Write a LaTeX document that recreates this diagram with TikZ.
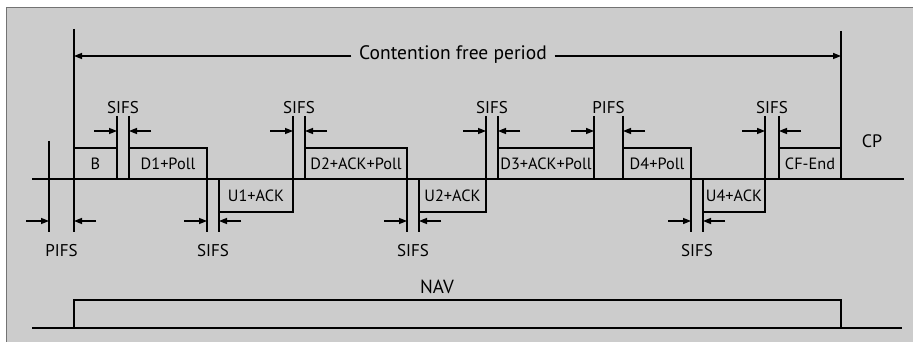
\documentclass[tikz,border=0pt]{standalone}
\usepackage{fontspec}
\setmainfont{PT Sans}
\usetikzlibrary{arrows.meta}
\definecolor{bggray}{gray}{0.80}
\definecolor{edgegray}{gray}{0.45}
\begin{document}
\begin{tikzpicture}[x=1pt,y=-1pt,
  line width=1.4pt,
  ln/.style={line width=1.4pt},
  tip/.style={-{Triangle[length=8pt,width=6pt]}, line width=1.4pt},
  frame/.style={draw, line width=1.4pt, inner sep=0pt, outer sep=0pt},
  boxlbl/.style={font=\fontsize{16.3}{18}\selectfont},
  lbl/.style={font=\fontsize{17}{19}\selectfont, inner sep=0pt}
]
\useasboundingbox (0,0) rectangle (913,342);
% background
\fill[bggray] (6,8) rectangle (913,342);
\draw[edgegray, line width=1pt] (6,342) -- (6,8) -- (913,8);

% timelines
\coordinate (tlS) at (32,179);
\coordinate (tlE) at (904,179);
\draw[ln] (tlS) -- (tlE);

% upper frames
\node[frame, minimum width=43, minimum height=31, anchor=north west] (B) at (74,148) {};
\node[boxlbl] at (B.center) {B};
\node[frame, minimum width=78, minimum height=31, anchor=north west] (D1) at (129,148) {};
\node[boxlbl] at (D1.center) {D1+Poll};
\node[frame, minimum width=102, minimum height=31, anchor=north west] (D2) at (305,148) {};
\node[boxlbl] at (D2.center) {D2+ACK+Poll};
\node[frame, minimum width=96, minimum height=31, anchor=north west] (D3) at (498,148) {};
\node[boxlbl] at (D3.center) {D3+ACK+Poll};
\node[frame, minimum width=68, minimum height=31, anchor=north west] (D4) at (623,148) {};
\node[boxlbl] at (D4.center) {D4+Poll};
\node[frame, minimum width=62, minimum height=31, anchor=north west] (CFE) at (779,148) {};
\node[boxlbl] at (CFE.center) {CF-End};
% lower frames
\node[frame, minimum width=74, minimum height=33, anchor=north west] (U1) at (219,179) {};
\node[boxlbl] at (U1.center) {U1+ACK};
\node[frame, minimum width=67, minimum height=33, anchor=north west] (U2) at (419,179) {};
\node[boxlbl] at (U2.center) {U2+ACK};
\node[frame, minimum width=62, minimum height=33, anchor=north west] (U4) at (703,179) {};
\node[boxlbl] at (U4.center) {U4+ACK};

% contention free period
\coordinate (cfpLtop) at (74,29);
\coordinate (cfpLbot) at (74,231);
\coordinate (cfpRtop) at (841,31);
\draw[ln] (cfpLtop) -- (cfpLbot);
\draw[ln] (cfpRtop) -- (CFE.north east);
\coordinate (cfpL) at (74,56);
\coordinate (cfpR) at (841,56);
\node[lbl, font=\fontsize{19.5}{21}\selectfont, inner xsep=7pt] (cfp) at (453,55) {Contention free period};
\draw[tip] (cfp.west |- cfpL) -- (cfpL);
\draw[tip] (cfp.east |- cfpR) -- (cfpR);

% top markers (SIFS / PIFS)
\foreach \a/\b/\name/\txt/\ya/\yb in {
   117/129/s1/SIFS/179/179,
   293/305/s2/SIFS/212/179,
   486/498/s3/SIFS/212/179,
   594/623/p2/PIFS/179/179,
   765/779/s4/SIFS/212/179}{
  \coordinate (\name a) at (\a,116);
  \coordinate (\name b) at (\b,116);
  \coordinate (\name a0) at (\a,\ya);
  \coordinate (\name b0) at (\b,\yb);
  \draw[ln] (\name a) -- (\name a0);
  \draw[ln] (\name b) -- (\name b0);
  \coordinate (\name ta) at ({\a-23},131);
  \coordinate (\name ha) at (\a,131);
  \coordinate (\name tb) at ({\b+22},131);
  \coordinate (\name hb) at (\b,131);
  \draw[tip] (\name ta) -- (\name ha);
  \draw[tip] (\name tb) -- (\name hb);
  \node[lbl] (\name lbl) at ({(\a+\b)/2},108) {\txt};
}

% bottom markers
\foreach \a/\b/\name/\txt/\ya/\yb in {
   49/74/p1/PIFS/141/179,
   207/219/t1/SIFS/148/179,
   407/419/t2/SIFS/148/179,
   691/703/t4/SIFS/148/179}{
  \coordinate (\name a) at (\a,232);
  \coordinate (\name b) at (\b,232);
  \coordinate (\name a0) at (\a,\ya);
  \coordinate (\name b0) at (\b,\yb);
  \draw[ln] (\name a0) -- (\name a);
  \draw[ln] (\name b0) -- (\name b);
  \coordinate (\name ta) at ({\a-23},221);
  \coordinate (\name ha) at (\a,221);
  \coordinate (\name tb) at ({\b+22},221);
  \coordinate (\name hb) at (\b,221);
  \draw[tip] (\name ta) -- (\name ha);
  \draw[tip] (\name tb) -- (\name hb);
  \node[lbl] (\name lbl) at ({(\a+\b)/2},251) {\txt};
}

\node[lbl, font=\fontsize{18}{20}\selectfont] (cp) at (872,141) {CP};

% NAV
\node[lbl, font=\fontsize{19}{21}\selectfont] (navlbl) at (437,287) {NAV};
\node[frame, minimum width=767, minimum height=28, anchor=north west] (nav) at (74,300) {};
\coordinate (navS) at (32,328);
\coordinate (navE) at (902,328);
\draw[ln] (navS) -- (navE);
\end{tikzpicture}
\end{document}
